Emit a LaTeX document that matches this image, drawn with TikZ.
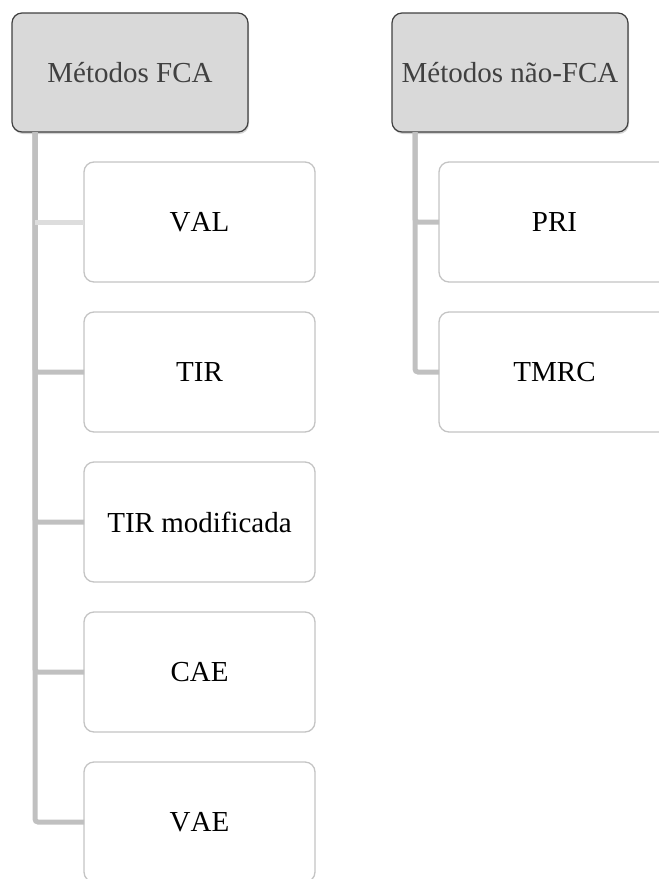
\documentclass[tikz,border=0pt]{standalone}
\usepackage{fontspec}
\setmainfont[Kerning=Off]{Liberation Serif}
\usetikzlibrary{positioning, shadows}

\definecolor{headfill}{HTML}{D9D9D9}
\definecolor{headline}{HTML}{404040}
\definecolor{boxline}{HTML}{C4C4C4}
\definecolor{connline}{HTML}{C0C0C0}
\definecolor{connlight}{HTML}{DDDDDD}

\begin{document}
\begin{tikzpicture}[
            x = 1pt, y = -1pt, % pixel like units, y downwards
            node distance = 30pt, % gap between boxes
            font = \fontsize{29}{34}\selectfont
        ]

        \tikzstyle{head}=[
            draw = headline,
            line width = 1.2pt,
            outer sep = 0pt,
            fill = headfill,
            text = headline,
            rounded corners = 10pt,
            minimum width = 236pt,
            minimum height = 119pt,
            drop shadow = {opacity = 0.35, shadow xshift = 1pt, shadow yshift = -2pt}
        ]
        \tikzstyle{item}=[
            draw = boxline,
            line width = 1.3pt,
            outer sep = 0pt,
            fill = white,
            rounded corners = 10pt,
            minimum width = 231pt,
            minimum height = 120pt
        ]
        \tikzstyle{conn}=[
            draw = connline,
            line width = 5pt,
            rounded corners = 3pt
        ]

        \useasboundingbox (0,0) rectangle (659,879);
        \clip (0,0) rectangle (659,879);

        % left column
        \node[head] (fca) at (130,72.5) {Métodos FCA};
        \node[item, anchor=north west] (val) at ([xshift=72pt, yshift=-30pt]fca.south west) {VAL};
        \node[item] (tir) [below=of val] {TIR};
        \node[item] (tirm) [below=of tir] {TIR modificada};
        \node[item] (cae) [below=of tirm] {CAE};
        \node[item] (vae) [below=of cae] {VAE};

        % right column
        \node[head] (nfca) at (510,72.5) {Métodos não-FCA};
        \node[item, anchor=north west] (pri) at ([xshift=47pt, yshift=-30pt]nfca.south west) {PRI};
        \node[item] (tmrc) [below=of pri] {TMRC};

        \coordinate (fcaroot) at ([xshift=23pt]fca.south west);
        \coordinate (nfcaroot) at ([xshift=23pt]nfca.south west);

        \draw[conn] (fcaroot) |- (vae.west);
        \draw[conn] (fcaroot) |- (cae.west);
        \draw[conn] (fcaroot) |- (tirm.west);
        \draw[conn] (fcaroot) |- (tir.west);
        \draw[conn, draw=connlight] (fcaroot |- val.west) -- (val.west);

        \draw[conn] (nfcaroot) |- (tmrc.west);
        \draw[conn] (nfcaroot) |- (pri.west);

    \end{tikzpicture}
\end{document}
